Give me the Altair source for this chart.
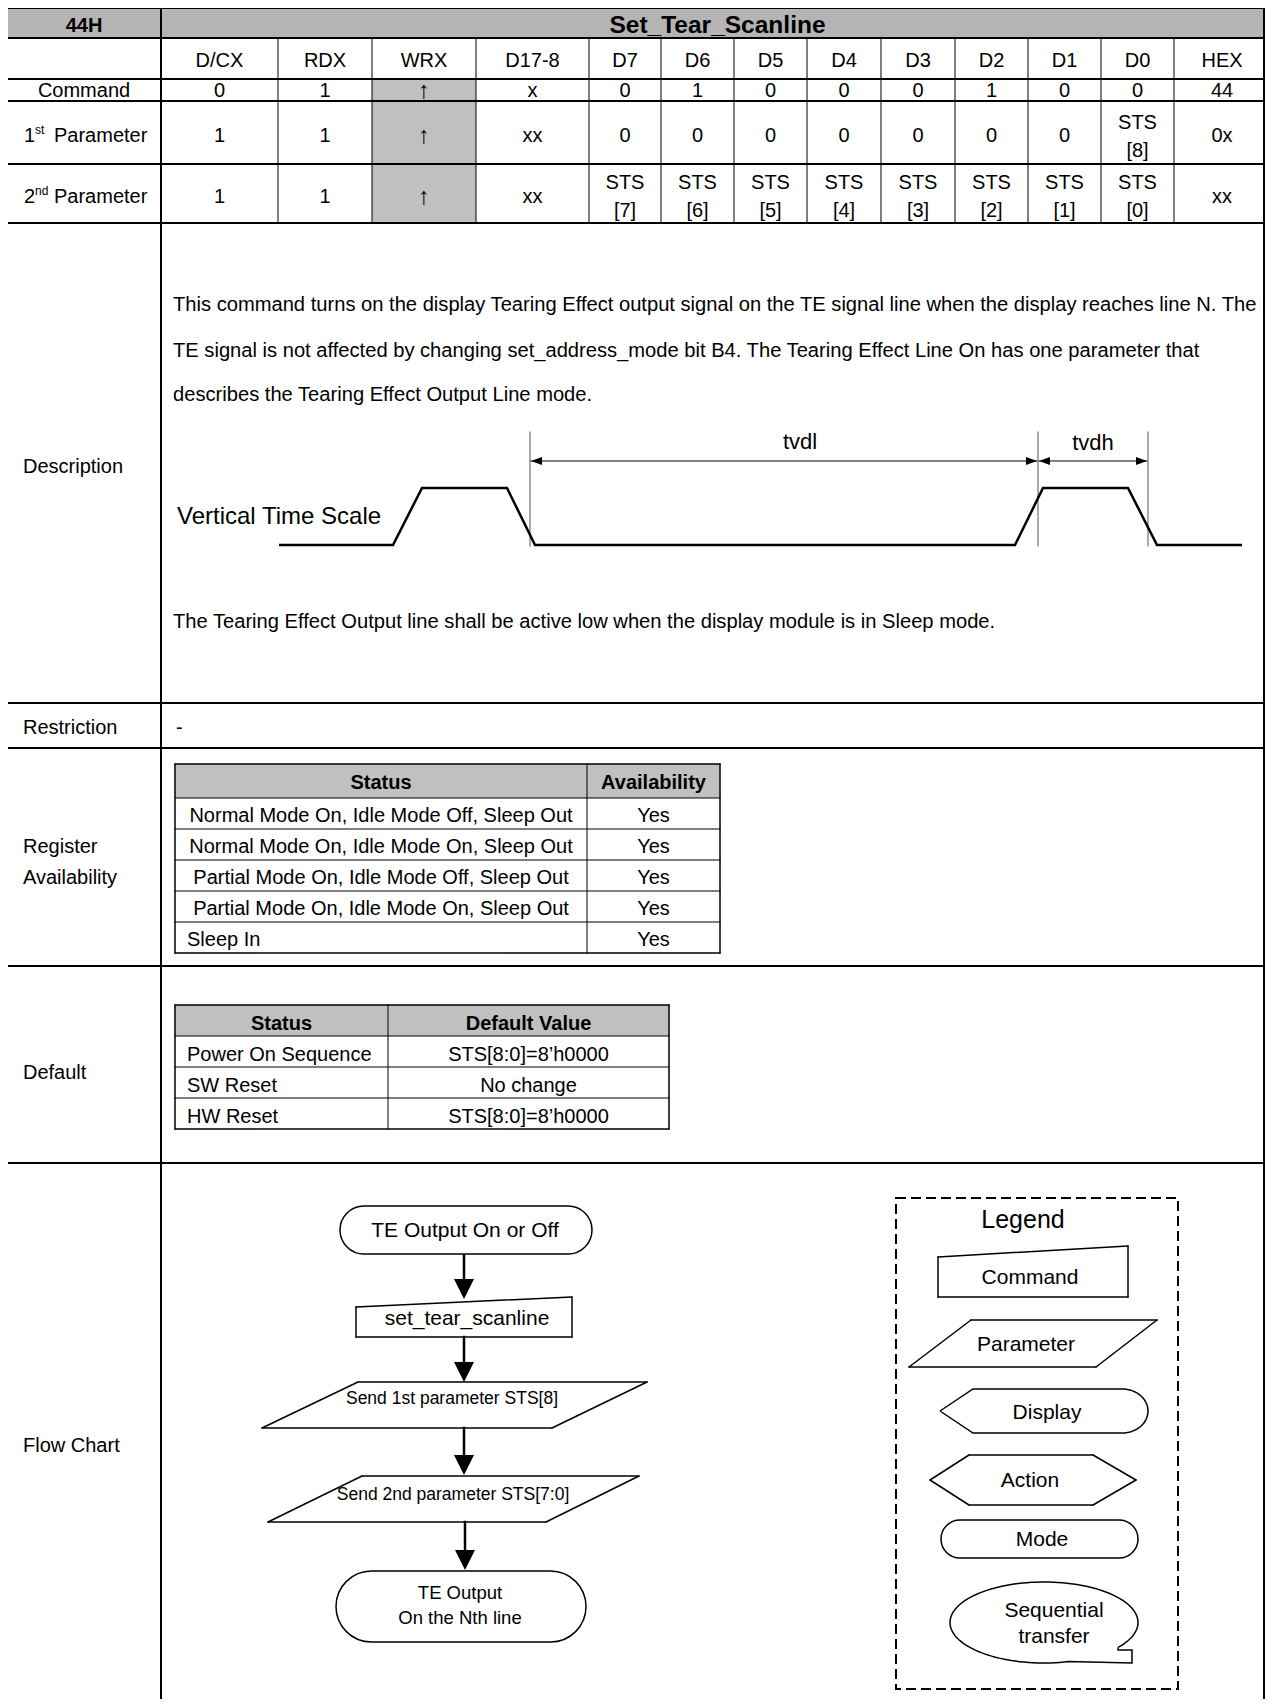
import altair as alt
import numpy as np
import pandas as pd

# ---------------- content (text of the datasheet page) ----------------
COMMAND_CODE = "44H"
COMMAND_NAME = "Set_Tear_Scanline"
BUS_COLUMNS = ["D/CX", "RDX", "WRX", "D17-8", "D7", "D6", "D5", "D4", "D3", "D2", "D1", "D0", "HEX"]
COMMAND_ROW = ["0", "1", "↑", "x", "0", "1", "0", "0", "0", "1", "0", "0", "44"]
PARAM1_ROW = ["1", "1", "↑", "xx", "0", "0", "0", "0", "0", "0", "0", "STS\n[8]", "0x"]
PARAM2_ROW = ["1", "1", "↑", "xx", "STS\n[7]", "STS\n[6]", "STS\n[5]", "STS\n[4]",
              "STS\n[3]", "STS\n[2]", "STS\n[1]", "STS\n[0]", "xx"]
ROW_NUMS = ["", "1", "2"]
ROW_SUPS = ["", "st", "nd"]
ROW_WORDS = ["Command", "Parameter", "Parameter"]
SECTION_LABELS = ["Description", "Restriction", "Register\nAvailability", "Default", "Flow Chart"]
DESCRIPTION_LINES = [
    "This command turns on the display Tearing Effect output signal on the TE signal line when the display reaches line N. The",
    "TE signal is not affected by changing set_address_mode bit B4. The Tearing Effect Line On has one parameter that",
    "describes the Tearing Effect Output Line mode.",
]
DESCRIPTION_NOTE = "The Tearing Effect Output line shall be active low when the display module is in Sleep mode."
RESTRICTION_TEXT = "-"
WAVE_LABEL = "Vertical Time Scale"
TIMING_LABELS = ["tvdl", "tvdh"]
REG_HEADER = ["Status", "Availability"]
REG_STATUS = ["Normal Mode On, Idle Mode Off, Sleep Out",
              "Normal Mode On, Idle Mode On, Sleep Out",
              "Partial Mode On, Idle Mode Off, Sleep Out",
              "Partial Mode On, Idle Mode On, Sleep Out",
              "Sleep In"]
REG_AVAILABLE = ["Yes", "Yes", "Yes", "Yes", "Yes"]
DEF_HEADER = ["Status", "Default Value"]
DEF_STATUS = ["Power On Sequence", "SW Reset", "HW Reset"]
DEF_VALUE = ["STS[8:0]=8’h0000", "No change", "STS[8:0]=8’h0000"]
FLOW_STEPS = ["TE Output On or Off", "set_tear_scanline", "Send 1st parameter STS[8]",
              "Send 2nd parameter STS[7:0]", "TE Output\nOn the Nth line"]
LEGEND_TITLE = "Legend"
LEGEND_ITEMS = ["Command", "Parameter", "Display", "Action", "Mode", "Sequential\ntransfer"]

# ---------------- layout (page pixel coordinates) ----------------
PAGE_X0, PAGE_X1 = 8, 1265
PAGE_Y0, PAGE_Y1 = 8, 1699
TX0, TXD, TX1 = 7, 161, 1270          # table frame (right edge lies just past the page)
RIGHT_BORDER_X = 1264                 # visible right border line
BUS_EDGES = [161, 278, 372, 476, 589, 661, 734, 807, 881, 955, 1028, 1101, 1174, 1270]
TOP_ROWS = [8, 38, 79, 101, 164, 223]
HEADER_TEXT_Y = 25.5
ROW_TEXT_Y = [61, 90.5, 136, 197]
STS_CENTER_Y = [None, 137, 196.5]
CELL_LINE_GAP = 28
ARROW_GLYPH_SIZE = 24
SECTION_EDGES = [703, 748, 966, 1163]
SECTION_LABEL_Y = [467, 728, 862.5, 1073, 1446]
LABEL_X = 23
DESC_X = 173
DESC_SIZE = 20.15
DESC_Y = [305, 351, 395]
NOTE_Y = 622
RESTRICTION_POS = (176, 728)
WAVE_X = [279, 393, 422, 507, 535, 1015, 1043, 1128, 1157, 1242]
WAVE_Y = [545, 545, 488, 488, 545, 545, 488, 488, 545, 545]
GUIDE_X = [530, 1038, 1148]
GUIDE_Y = (432, 546)
TIMING_ARROW_Y = 461
TIMING_LABEL_POS = [(800, 442), (1093, 443)]
WAVE_LABEL_POS = (177, 517)
REG_X = [175, 587, 720]
REG_Y = [764, 798, 829, 860, 891, 922, 953]
REG_ALIGN = ["center", "center", "center", "center", "left"]
REG_TEXT_DY = 2
DEF_X = [175, 388, 669]
DEF_Y = [1005, 1036, 1067, 1098, 1129]
DEF_TEXT_DY = 3.5
SUB_LEFT_PAD = 12

HEADER_GRAY = "#b4b4b4"
CELL_GRAY = "#c0c0c0"
GUIDE_GRAY = "#555555"

XS = alt.Scale(domain=[PAGE_X0, PAGE_X1], nice=False, zero=False)
YS = alt.Scale(domain=[PAGE_Y0, PAGE_Y1], nice=False, zero=False, reverse=True)


def xy():
    return dict(x=alt.X("x:Q", scale=XS, axis=None), y=alt.Y("y:Q", scale=YS, axis=None))


texts, rules, poly_rules, fills = [], [], [], []


def T(x, y, s, size=20, align="center", weight="normal"):
    texts.append(dict(x=x, y=y, t=s, size=size, align=align, weight=weight))


def T_lines(x, y, s, gap, size=20, align="center", weight="normal"):
    parts = s.split("\n")
    n = len(parts)
    for k, p in enumerate(parts):
        T(x, y + (k - (n - 1) / 2) * gap, p, size, align, weight)


def R(x, y, x2, y2, w=2.0, c="black"):
    rules.append(dict(x=x, y=y, x2=x2, y2=y2, w=w, c=c))


def P(points, w=1.5):
    for i in range(len(points)):
        (a, b), (c, d) = points[i], points[(i + 1) % len(points)]
        poly_rules.append(dict(x=a, y=b, x2=c, y2=d, w=w, c="black"))


def F(x, y, x2, y2, c):
    fills.append(dict(x=x, y=y, x2=x2, y2=y2, c=c))


# ---- main command table ----
F(TX0, TOP_ROWS[0], TX1, TOP_ROWS[1], HEADER_GRAY)
WRX_COL = BUS_COLUMNS.index("WRX")
F(BUS_EDGES[WRX_COL], TOP_ROWS[2], BUS_EDGES[WRX_COL + 1], TOP_ROWS[5], CELL_GRAY)
T((TX0 + TXD) / 2, HEADER_TEXT_Y, COMMAND_CODE, 20, weight="bold")
T((TXD + TX1) / 2 + 2, HEADER_TEXT_Y, COMMAND_NAME, 24.5, weight="bold")
for i, c in enumerate(BUS_COLUMNS):
    T((BUS_EDGES[i] + BUS_EDGES[i + 1]) / 2, ROW_TEXT_Y[0], c)
for r, row in enumerate([COMMAND_ROW, PARAM1_ROW, PARAM2_ROW]):
    yc = ROW_TEXT_Y[r + 1]
    for i, cell in enumerate(row):
        cx = (BUS_EDGES[i] + BUS_EDGES[i + 1]) / 2
        if cell == "↑":
            T(cx, yc, cell, ARROW_GLYPH_SIZE)
        elif "\n" in cell:
            T_lines(cx, STS_CENTER_Y[r], cell, CELL_LINE_GAP)
        else:
            T(cx, yc, cell)
    if ROW_NUMS[r]:
        T(24, yc, ROW_NUMS[r], align="left")
        T(35, yc - 6, ROW_SUPS[r], 12, align="left")
        T(54, yc, ROW_WORDS[r], align="left")
    else:
        T((TX0 + TXD) / 2, yc, ROW_WORDS[r])

for yy in TOP_ROWS + SECTION_EDGES:
    R(TX0, yy, TX1, yy, 2)
for xx in [TX0, TXD, RIGHT_BORDER_X]:
    R(xx, TOP_ROWS[0], xx, PAGE_Y1 + 5, 2)
for xx in BUS_EDGES[1:-1]:
    R(xx, TOP_ROWS[1], xx, TOP_ROWS[5], 1)

# ---- section labels ----
for lab, yy in zip(SECTION_LABELS, SECTION_LABEL_Y):
    T_lines(LABEL_X, yy, lab, 31, align="left")

# ---- description ----
for line, yy in zip(DESCRIPTION_LINES, DESC_Y):
    T(DESC_X, yy, line, DESC_SIZE, align="left")
T(DESC_X, NOTE_Y, DESCRIPTION_NOTE, DESC_SIZE, align="left")
T(RESTRICTION_POS[0], RESTRICTION_POS[1], RESTRICTION_TEXT, align="left")
T(WAVE_LABEL_POS[0], WAVE_LABEL_POS[1], WAVE_LABEL, 24, align="left")
for lab, (lx, ly) in zip(TIMING_LABELS, TIMING_LABEL_POS):
    T(lx, ly, lab, 22)
for gx in GUIDE_X:
    R(gx, GUIDE_Y[0], gx, GUIDE_Y[1], 1, GUIDE_GRAY)
R(GUIDE_X[0] + 1, TIMING_ARROW_Y, GUIDE_X[1] - 1, TIMING_ARROW_Y, 1)
R(GUIDE_X[1] + 1, TIMING_ARROW_Y, GUIDE_X[2] - 1, TIMING_ARROW_Y, 1)

# ---- register availability table ----
F(REG_X[0], REG_Y[0], REG_X[2], REG_Y[1], CELL_GRAY)
for k, h in enumerate(REG_HEADER):
    T((REG_X[k] + REG_X[k + 1]) / 2, (REG_Y[0] + REG_Y[1]) / 2 + REG_TEXT_DY, h, weight="bold")
for i, (s, a) in enumerate(zip(REG_STATUS, REG_AVAILABLE)):
    yc = (REG_Y[i + 1] + REG_Y[i + 2]) / 2 + REG_TEXT_DY
    if REG_ALIGN[i] == "left":
        T(REG_X[0] + SUB_LEFT_PAD, yc, s, align="left")
    else:
        T((REG_X[0] + REG_X[1]) / 2, yc, s)
    T((REG_X[1] + REG_X[2]) / 2, yc, a)
for yy in REG_Y[1:-1]:
    R(REG_X[0], yy, REG_X[2], yy, 1)
R(REG_X[1], REG_Y[0], REG_X[1], REG_Y[-1], 1)
P([(REG_X[0], REG_Y[0]), (REG_X[2], REG_Y[0]), (REG_X[2], REG_Y[-1]), (REG_X[0], REG_Y[-1])], 1.5)

# ---- default table ----
F(DEF_X[0], DEF_Y[0], DEF_X[2], DEF_Y[1], CELL_GRAY)
for k, h in enumerate(DEF_HEADER):
    T((DEF_X[k] + DEF_X[k + 1]) / 2, (DEF_Y[0] + DEF_Y[1]) / 2 + DEF_TEXT_DY, h, weight="bold")
for i, (s, v) in enumerate(zip(DEF_STATUS, DEF_VALUE)):
    yc = (DEF_Y[i + 1] + DEF_Y[i + 2]) / 2 + DEF_TEXT_DY
    T(DEF_X[0] + SUB_LEFT_PAD, yc, s, align="left")
    T((DEF_X[1] + DEF_X[2]) / 2, yc, v)
for yy in DEF_Y[1:-1]:
    R(DEF_X[0], yy, DEF_X[2], yy, 1)
R(DEF_X[1], DEF_Y[0], DEF_X[1], DEF_Y[-1], 1)
P([(DEF_X[0], DEF_Y[0]), (DEF_X[2], DEF_Y[0]), (DEF_X[2], DEF_Y[-1]), (DEF_X[0], DEF_Y[-1])], 1.5)

# ---- flow chart ----
FLOW_STADIUMS = [(340, 1206, 592, 1254), (336, 1571, 586, 1642)]
FLOW_CMD = [(356, 1307), (572, 1297), (572, 1337), (356, 1337)]
FLOW_PARA1 = [(358, 1382), (647, 1382), (552, 1428), (262, 1428)]
FLOW_PARA2 = [(362, 1476), (639, 1476), (546, 1522), (268, 1522)]
FLOW_ARROWS = [(464, 1254, 1282, 1299), (464, 1337, 1364, 1382), (464, 1428, 1457, 1475), (465, 1522, 1552, 1570)]
FLOW_TEXT_POS = [(465, 1231, 21), (467, 1319, 21), (452, 1399, 17.5), (453, 1495, 17.5), (460, 1605, 18.5)]
P(FLOW_CMD)
P(FLOW_PARA1)
P(FLOW_PARA2)
heads = []
for ax, y0, y1, tip in FLOW_ARROWS:
    R(ax, y0, ax, y1, 2.5)
    heads.append(dict(x=ax, y=tip, s="M0,0L-10,-20L10,-20Z"))
heads += [dict(x=GUIDE_X[0] + 1, y=TIMING_ARROW_Y, s="M0,0L11,-4L11,4Z"),
          dict(x=GUIDE_X[1] - 1, y=TIMING_ARROW_Y, s="M0,0L-11,-4L-11,4Z"),
          dict(x=GUIDE_X[1] + 1, y=TIMING_ARROW_Y, s="M0,0L11,-4L11,4Z"),
          dict(x=GUIDE_X[2] - 1, y=TIMING_ARROW_Y, s="M0,0L-11,-4L-11,4Z")]
for s, (fx, fy, fs) in zip(FLOW_STEPS, FLOW_TEXT_POS):
    T_lines(fx, fy, s, 25, fs)

# ---- legend ----
LEGEND_BOX = (896, 1198, 1178, 1689)
LEGEND_TITLE_POS = (1023, 1220)
LEG_CMD = [(938, 1257), (1128, 1246), (1128, 1297), (938, 1297)]
LEG_PARAM = [(971, 1320), (1157, 1320), (1096, 1367), (909, 1367)]
LEG_ACTION = [(930, 1480), (969, 1455), (1093, 1455), (1136, 1480), (1093, 1505), (969, 1505)]
LEG_MODE = (941, 1520, 1138, 1558)
DISP_LEFT = [(940, 1411), (973, 1389)]
DISP_ARC = (1122, 1411, 26, 22)
DISP_BOTTOM_LEFT = (973, 1433)
SEQ_ELL = (1044, 1622.5, 94, 40.5)
SEQ_TAIL = [(1132, 1663), (1132, 1650)]
LEG_TEXT_POS = [(1030, 1278), (1026, 1345), (1047, 1413), (1030, 1481), (1042, 1540), (1054, 1624)]
P(LEG_CMD)
P(LEG_PARAM)
P(LEG_ACTION)
T(LEGEND_TITLE_POS[0], LEGEND_TITLE_POS[1], LEGEND_TITLE, 25)
for s, (lx, ly) in zip(LEGEND_ITEMS, LEG_TEXT_POS):
    T_lines(lx, ly, s, 26, 21)

curve_pts = []
t = np.linspace(-np.pi / 2, np.pi / 2, 31)
disp = DISP_LEFT + [(DISP_ARC[0] + DISP_ARC[2] * np.cos(a), DISP_ARC[1] + DISP_ARC[3] * np.sin(a)) for a in t]
disp += [DISP_BOTTOM_LEFT, DISP_LEFT[0]]
for i, (px, py) in enumerate(disp):
    curve_pts.append(dict(x=px, y=py, o=i, g="display"))
t2 = np.linspace(np.deg2rad(38), np.deg2rad(-285), 120)
seq = [(SEQ_ELL[0] + SEQ_ELL[2] * np.cos(a), SEQ_ELL[1] + SEQ_ELL[3] * np.sin(a)) for a in t2]
seq += SEQ_TAIL + [(seq[0][0], SEQ_TAIL[1][1]), seq[0]]
for i, (px, py) in enumerate(seq):
    curve_pts.append(dict(x=px, y=py, o=i, g="seq"))

wave = pd.DataFrame(dict(x=WAVE_X, y=WAVE_Y, o=list(range(len(WAVE_X)))))

# ---------------- build layers ----------------
layers = []
layers.append(alt.Chart(pd.DataFrame(fills)).mark_rect(strokeWidth=0).encode(
    **xy(), x2="x2:Q", y2="y2:Q", color=alt.Color("c:N", scale=None)))
layers.append(alt.Chart(pd.DataFrame(rules)).mark_rule(strokeCap="square").encode(
    **xy(), x2="x2:Q", y2="y2:Q", strokeWidth=alt.StrokeWidth("w:Q", scale=None),
    color=alt.Color("c:N", scale=None)))
layers.append(alt.Chart(pd.DataFrame(poly_rules)).mark_rule(strokeCap="round").encode(
    **xy(), x2="x2:Q", y2="y2:Q", strokeWidth=alt.StrokeWidth("w:Q", scale=None),
    color=alt.Color("c:N", scale=None)))
for (x1, y1, x2, y2) in FLOW_STADIUMS + [LEG_MODE]:
    layers.append(alt.Chart(pd.DataFrame([dict(x=x1, y=y1, x2=x2, y2=y2)])).mark_rect(
        cornerRadius=(y2 - y1) / 2, fill="white", stroke="black", strokeWidth=1.5).encode(
        **xy(), x2="x2:Q", y2="y2:Q"))
lb = LEGEND_BOX
layers.append(alt.Chart(pd.DataFrame([dict(x=lb[0], y=lb[1], x2=lb[2], y2=lb[3])])).mark_rect(
    fill="white", fillOpacity=0, stroke="black", strokeWidth=2, strokeDash=[10, 5]).encode(
    **xy(), x2="x2:Q", y2="y2:Q"))
layers.append(alt.Chart(pd.DataFrame(curve_pts)).mark_line(strokeWidth=1.5, color="black").encode(
    **xy(), detail="g:N", order="o:Q"))
layers.append(alt.Chart(wave).mark_line(strokeWidth=2.5, color="black", strokeJoin="miter").encode(
    **xy(), order="o:Q"))
layers.append(alt.Chart(pd.DataFrame(heads)).mark_point(filled=True, size=4, opacity=1, color="black").encode(
    **xy(), shape=alt.Shape("s:N", scale=None)))

tdf = pd.DataFrame(texts)
for (al, wt), sub in tdf.groupby(["align", "weight"]):
    layers.append(alt.Chart(sub.reset_index(drop=True)).mark_text(
        align=al, baseline="middle", font="Liberation Sans", fontWeight=wt, color="black").encode(
        **xy(), text="t:N", size=alt.Size("size:Q", scale=None)))

chart = alt.layer(*layers).properties(
    width=PAGE_X1 - PAGE_X0, height=PAGE_Y1 - PAGE_Y0, padding=0,
    autosize=alt.AutoSizeParams(type="none"), background="white",
).configure_view(stroke=None)

chart.save("out.html", embed_options={"renderer": "svg", "actions": False})
